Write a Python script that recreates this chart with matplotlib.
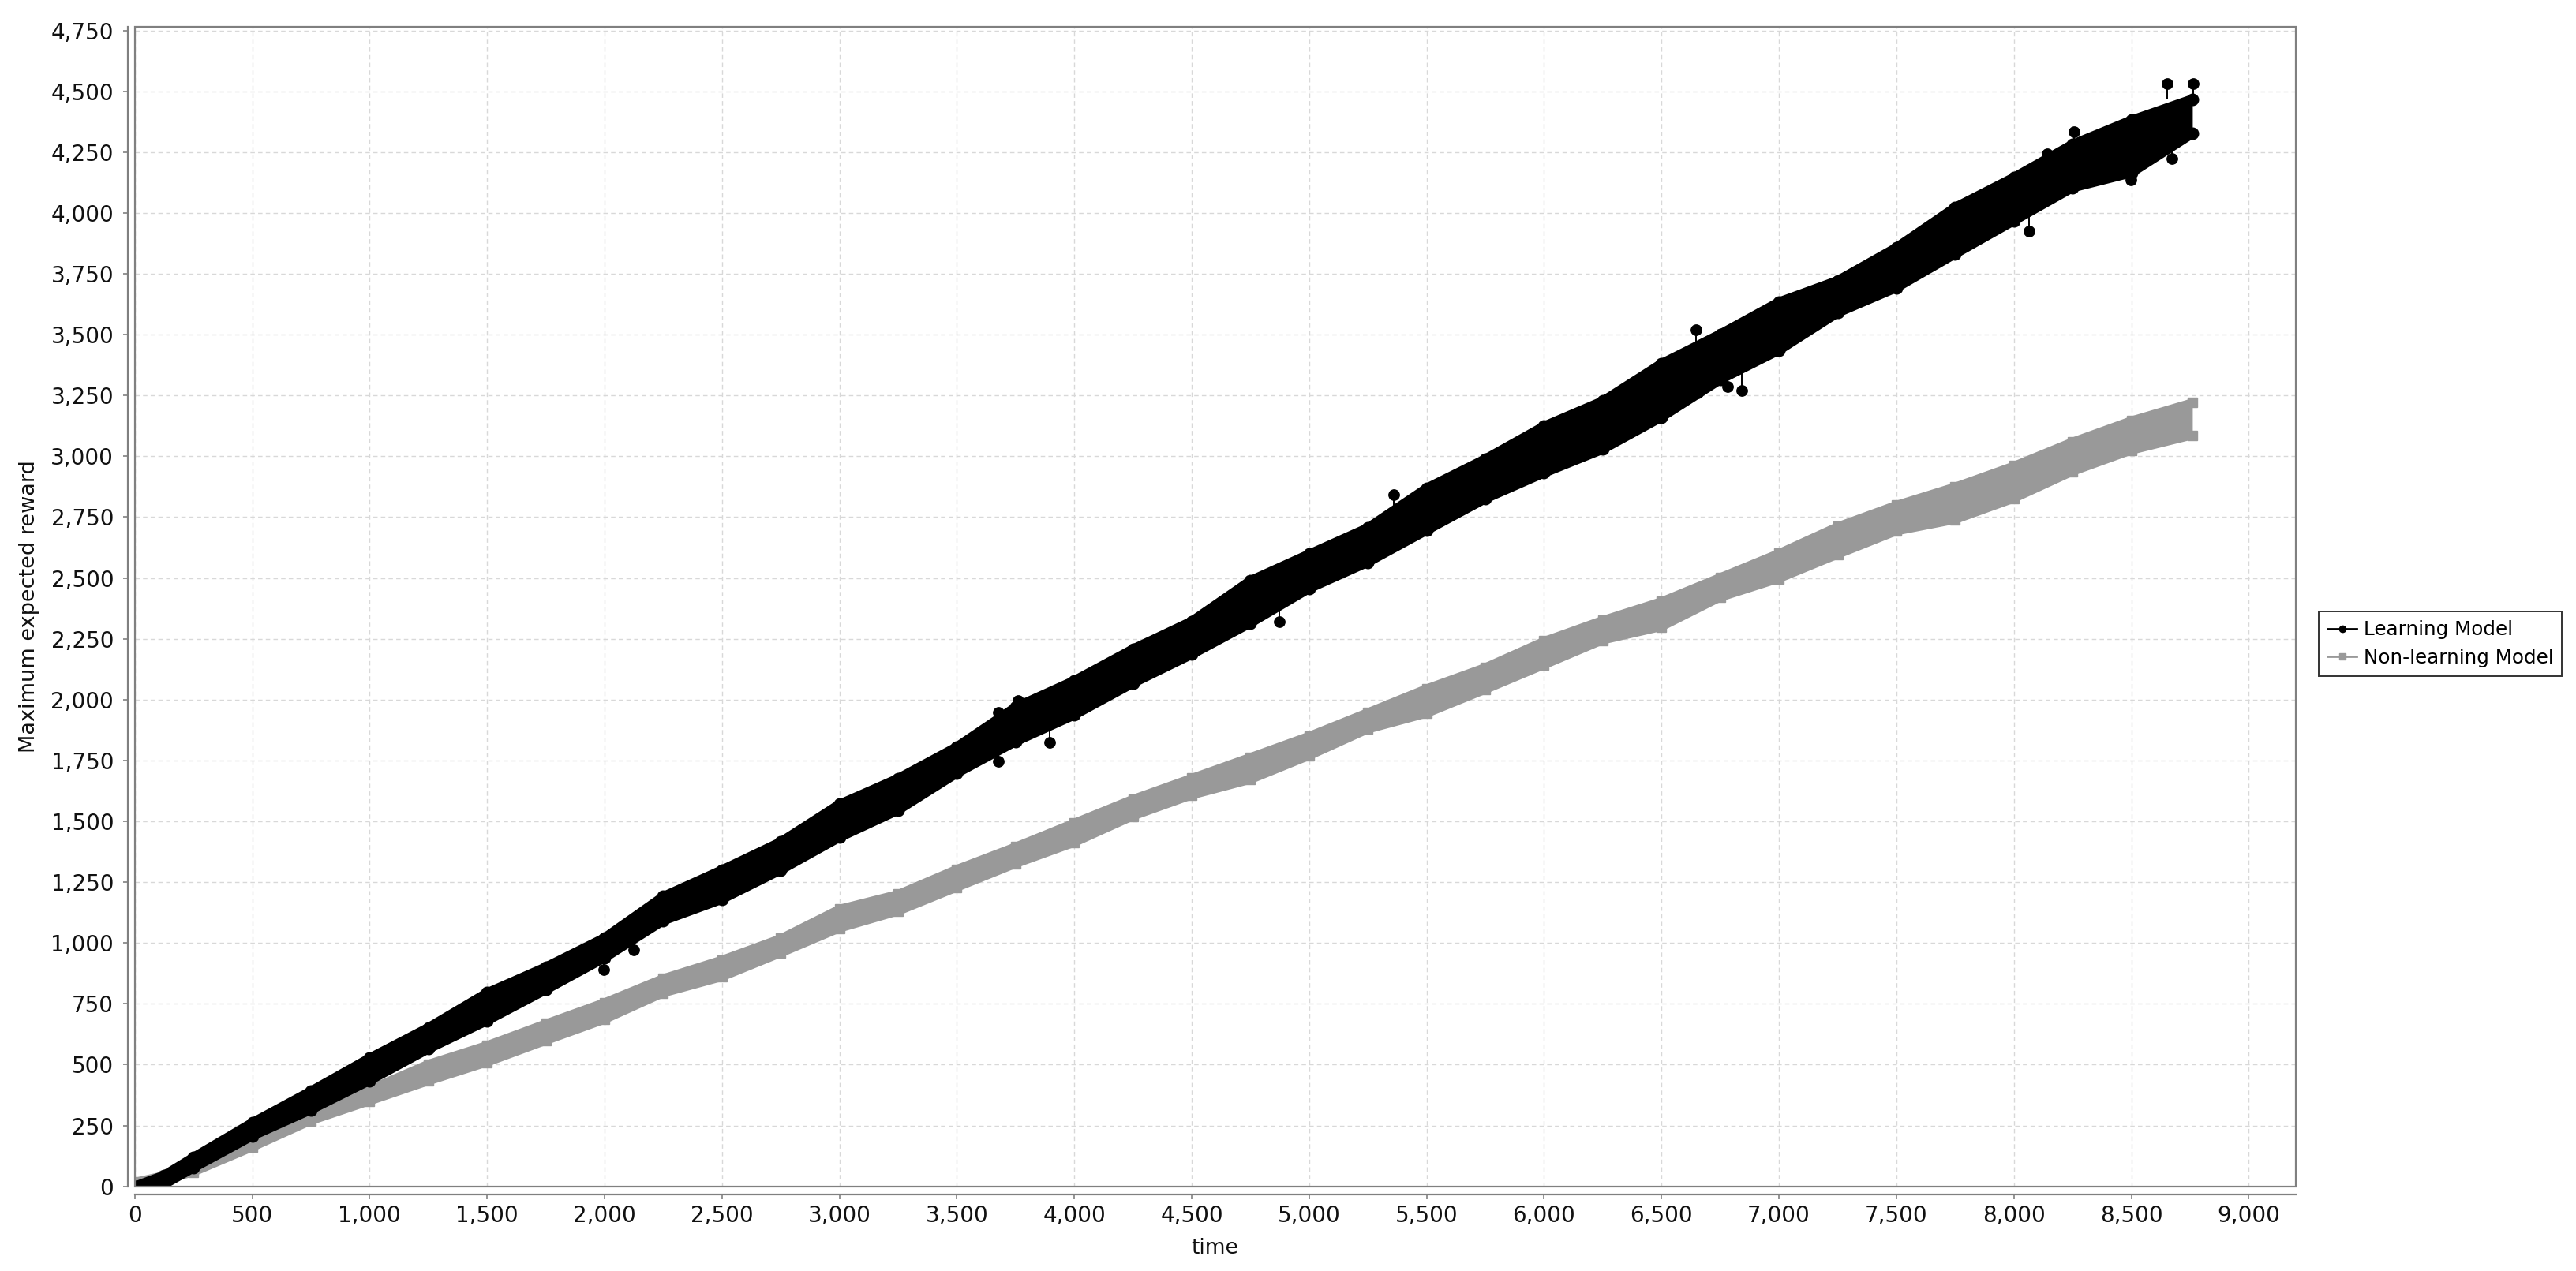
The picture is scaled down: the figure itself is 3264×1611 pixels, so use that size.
import matplotlib
matplotlib.use("Agg")
import matplotlib.pyplot as plt
from matplotlib.lines import Line2D
from matplotlib.patches import Rectangle
from matplotlib.ticker import MultipleLocator, FuncFormatter

# ---------------- data ----------------
time_points = [0, 125, 250, 500, 750, 1000, 1250, 1500, 1750, 2000, 2250, 2500,
               2750, 3000, 3250, 3500, 3750, 4000, 4250, 4500, 4750, 5000, 5250,
               5500, 5750, 6000, 6250, 6500, 6750, 7000, 7250, 7500, 7750, 8000,
               8250, 8500, 8760]

# Learning Model: upper / lower edge of the noisy series
learning_hi = [0, 45, 119, 261, 391, 527, 652, 795, 901, 1021, 1191, 1300,
               1415, 1570, 1676, 1806, 1969, 2078, 2208, 2322, 2489, 2598, 2706,
               2869, 2989, 3124, 3227, 3381, 3502, 3634, 3722, 3858, 4023, 4146,
               4282, 4381, 4468]
learning_lo = [0, 8, 76, 207, 315, 435, 565, 681, 808, 939, 1092, 1180,
               1300, 1434, 1546, 1698, 1828, 1937, 2068, 2186, 2315, 2457, 2565,
               2696, 2826, 2932, 3029, 3161, 3315, 3436, 3590, 3693, 3832, 3968,
               4104, 4165, 4326]

# Non-learning Model: upper / lower edge
nonlearning_hi = [18, 45, 95, 210, 307, 399, 503, 580, 669, 756, 855, 931,
                  1019, 1140, 1201, 1304, 1396, 1494, 1592, 1678, 1764, 1851, 1948,
                  2046, 2133, 2241, 2327, 2404, 2503, 2602, 2712, 2800, 2875, 2961,
                  3060, 3147, 3221]
nonlearning_lo = [4, 25, 58, 160, 269, 350, 432, 509, 598, 685, 794, 860,
                  958, 1060, 1130, 1228, 1325, 1412, 1521, 1607, 1671, 1769, 1878,
                  1943, 2041, 2142, 2244, 2299, 2420, 2497, 2596, 2692, 2739, 2826,
                  2937, 3024, 3086]

# isolated Learning Model points sticking out of the band
outlier_t = [1998, 2126, 3677, 3761, 3677, 3895, 4874, 5359, 6646, 6652, 6780,
             6842, 8064, 8143, 8256, 8499, 8674, 8652, 8762]
outlier_v = [890, 972, 1948, 1997, 1747, 1823, 2321, 2842, 3519, 3260, 3288,
             3271, 3926, 4242, 4335, 4137, 4224, 4533, 4533]
outlier_anchor = [945, 1010, 1925, 1975, 1790, 1880, 2380, 2790, 3460, 3300, 3340,
                  3360, 4030, 4200, 4285, 4200, 4290, 4470, 4470]

series_labels = ["Learning Model", "Non-learning Model"]
x_label = "time"
y_label = "Maximum expected reward"

# ---------------- styling ----------------
BLACK = "#000000"
GRAY = "#999999"
AXIS_GRAY = "#808080"
GRID = "#d8d8d8"

fig = plt.figure(figsize=(32.64, 16.11), dpi=100)
ax = fig.add_axes([0.0523, 0.0666, 0.8389, 0.9123])

ax.set_xlim(0, 9200)
ax.set_ylim(0, 4765)

# Non-learning (gray squares)
ax.fill_between(time_points, nonlearning_lo, nonlearning_hi, color=GRAY, lw=0, zorder=2)
for arr in (nonlearning_hi, nonlearning_lo):
    ax.plot(time_points, arr, color=GRAY, lw=7.5, solid_joinstyle="miter",
            solid_capstyle="butt", zorder=2)
    ax.plot(time_points, arr, linestyle="none", marker="s", ms=9, color=GRAY, zorder=2)

# Learning (black circles)
ax.fill_between(time_points, learning_lo, learning_hi, color=BLACK, lw=0, zorder=3)
for arr in (learning_hi, learning_lo):
    ax.plot(time_points, arr, color=BLACK, lw=8.5, solid_joinstyle="round",
            solid_capstyle="round", zorder=3)
    ax.plot(time_points, arr, linestyle="none", marker="o", ms=10.5, color=BLACK, zorder=3)
ax.vlines(outlier_t, outlier_anchor, outlier_v, color=BLACK, lw=1.4, zorder=3)
ax.plot(outlier_t, outlier_v, linestyle="none", marker="o", ms=9.6, color=BLACK, zorder=3)

# grid
ax.set_axisbelow(True)
ax.grid(True, color=GRID, linestyle=(0, (4, 3)), lw=1.0)

# axes / ticks
ax.xaxis.set_major_locator(MultipleLocator(500))
ax.yaxis.set_major_locator(MultipleLocator(250))
fmt = FuncFormatter(lambda v, p: f"{int(round(v)):,}")
ax.xaxis.set_major_formatter(fmt)
ax.yaxis.set_major_formatter(fmt)

for s in ("top", "right"):
    ax.spines[s].set_visible(False)
ax.spines["left"].set_position(("outward", 6.3))
ax.spines["bottom"].set_position(("outward", 7.2))
for s in ("left", "bottom"):
    ax.spines[s].set_color(AXIS_GRAY)
    ax.spines[s].set_linewidth(1.6)

ax.tick_params(axis="both", direction="out", length=4.3, width=1.2, color=AXIS_GRAY,
               labelsize=20, labelcolor="#111111")
ax.tick_params(axis="y", pad=8.5)
ax.tick_params(axis="x", pad=5.5)

# plot frame
ax.add_patch(Rectangle((0, 0), 1, 1, transform=ax.transAxes, fill=False,
                       edgecolor=AXIS_GRAY, lw=1.6, zorder=5, clip_on=False))

# axis labels
fig.text(1539 / 3264, 1 - 1582 / 1611, x_label, ha="center", va="center",
         fontsize=19, color="#111111")
fig.text(37 / 3264, 1 - 769 / 1611, y_label, ha="center", va="center",
         rotation=90, fontsize=19.5, color="#111111")

# legend
handles = [Line2D([], [], color=BLACK, marker="o", ms=6, lw=2),
           Line2D([], [], color=GRAY, marker="s", ms=6, lw=2)]
leg = fig.legend(handles, series_labels, loc="center left",
                 bbox_to_anchor=(2938 / 3264, 1 - 816 / 1611),
                 frameon=True, fancybox=False, edgecolor="black", fontsize=17.7,
                 handlelength=1.5, handletextpad=0.35, borderpad=0.45,
                 labelspacing=0.45, borderaxespad=0)
leg.get_frame().set_linewidth(1.4)

fig.savefig("out.png", dpi=100, facecolor="white")
